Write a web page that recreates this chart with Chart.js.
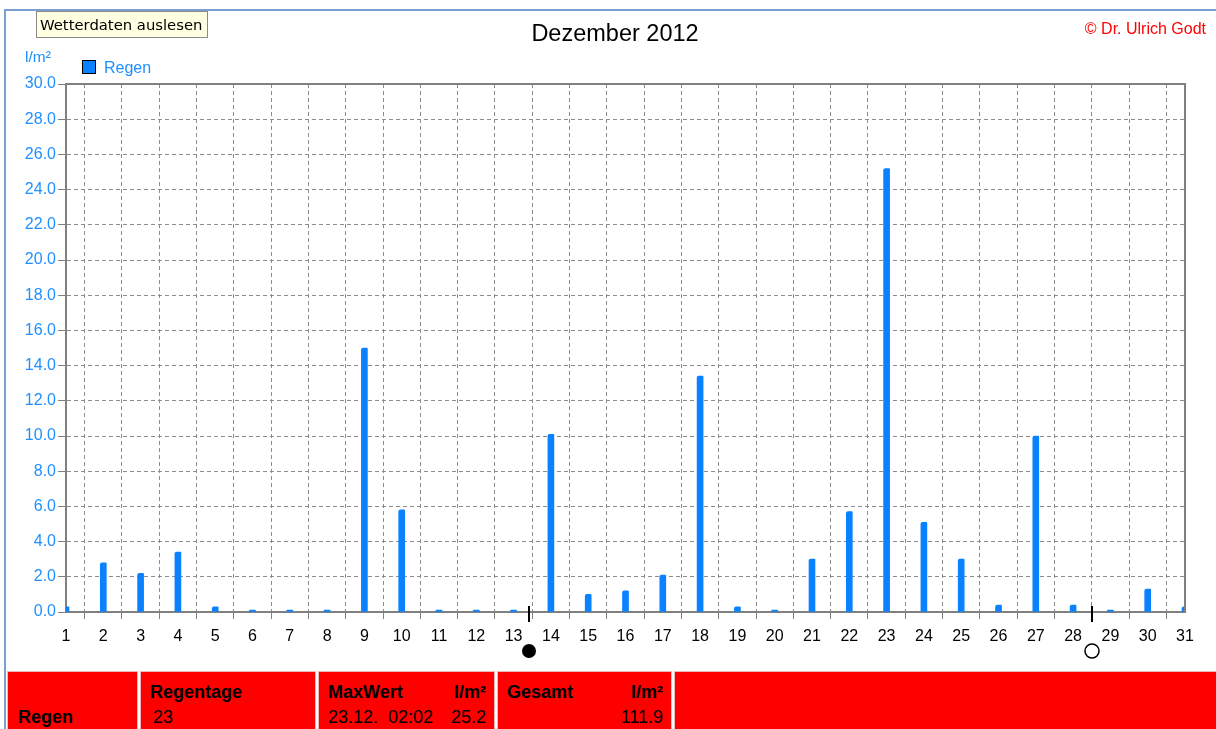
<!DOCTYPE html>
<html><head><meta charset="utf-8">
<script src="https://cdn.jsdelivr.net/npm/chart.js@4.4.1/dist/chart.umd.min.js"></script>
<style>
html,body{margin:0;padding:0;background:#fff;width:1216px;height:729px;overflow:hidden;font-family:"Liberation Sans",Arial,sans-serif;}
#wrap{position:absolute;left:0;top:0;width:1216px;height:668px;}
.abs{position:absolute;white-space:nowrap;}
.frameT{position:absolute;left:5px;top:9px;width:1211px;height:2px;background:#7a9fd2;}
.frameL{position:absolute;left:4px;top:9px;width:2px;height:720px;background:#7a9fd2;}
#tip{left:36px;top:11px;width:167px;height:25px;background:#ffffe1;border:1px solid #8a8a8a;font-family:"DejaVu Sans",sans-serif;font-size:14.8px;line-height:25px;padding-left:3px;box-sizing:content-box;color:#000;}
#title{left:415px;width:400px;top:20px;text-align:center;font-size:23.5px;color:#000;}
#copy{right:10px;top:20px;font-size:16px;color:#ff0000;}
#unit{left:25px;top:48px;font-size:15.5px;color:#1e90ff;}
#legbox{left:82px;top:60px;width:12px;height:12px;background:#0a82ff;border:1px solid #000;}
#legtxt{left:104px;top:59px;font-size:16px;color:#1e90ff;}
.cell{position:absolute;top:671px;height:60px;background:#ff0000;border:1px solid #f2b8b8;box-sizing:border-box;}
.t{position:absolute;font-size:18px;color:#000;white-space:nowrap;}
.b{font-weight:bold;}
</style>
</head><body>
<div class="frameT"></div><div class="frameL"></div>
<div id="wrap"><canvas id="c" width="1216" height="668"></canvas></div>
<div class="abs" id="title">Dezember 2012</div>
<div class="abs" id="copy">© Dr. Ulrich Godt</div>
<div class="abs" id="unit">l/m²</div>
<div class="abs" id="legbox"></div>
<div class="abs" id="legtxt">Regen</div>
<div class="abs" id="tip">Wetterdaten auslesen</div>

<div class="cell" style="left:7px;width:131px;"><div class="t b" style="left:10px;top:35px;">Regen</div></div>
<div class="cell" style="left:140px;width:176px;"><div class="t b" style="left:9px;top:10px;">Regentage</div><div class="t" style="left:12px;top:35px;">23</div></div>
<div class="cell" style="left:318px;width:177px;"><div class="t b" style="left:9px;top:10px;">MaxWert</div><div class="t b" style="right:8px;top:10px;">l/m²</div><div class="t" style="left:9px;top:35px;">23.12.&nbsp;&nbsp;02:02</div><div class="t" style="right:8px;top:35px;">25.2</div></div>
<div class="cell" style="left:497px;width:175px;"><div class="t b" style="left:9px;top:10px;">Gesamt</div><div class="t b" style="right:8px;top:10px;">l/m²</div><div class="t" style="right:8px;top:35px;">111.9</div></div>
<div class="cell" style="left:674px;width:545px;"></div>

<script>
// Data
const days = [1,2,3,4,5,6,7,8,9,10,11,12,13,14,15,16,17,18,19,20,21,22,23,24,25,26,27,28,29,30,31];
const rain = [0.3,2.8,2.2,3.4,0.3,0,0,0,15.0,5.8,0,0,0,10.1,1.0,1.2,2.1,13.4,0.3,0,3.0,5.7,25.2,5.1,3.0,0.4,10.0,0.4,0,1.3,0.3];
const moonDays = [13.4, 28.5];
const moonTypes = ['new','full'];
const seriesName = 'Regen';

const boxPlugin = {
  id:'box',
  afterDraw(chart){
    const {ctx, chartArea:a, scales:{x}} = chart;
    ctx.save();
    ctx.strokeStyle='#808080'; ctx.lineWidth=2;
    ctx.beginPath();
    ctx.moveTo(a.left, a.top); ctx.lineTo(a.right, a.top); ctx.lineTo(a.right, a.bottom);
    ctx.stroke();
    moonDays.forEach((d,i)=>{
      const px = Math.round(x.getPixelForValue(d));
      ctx.strokeStyle='#000'; ctx.lineWidth=2;
      ctx.beginPath(); ctx.moveTo(px, a.bottom-6); ctx.lineTo(px, a.bottom+10); ctx.stroke();
      ctx.beginPath(); ctx.arc(px, a.bottom+39, 7, 0, Math.PI*2);
      if(moonTypes[i]==='new'){ ctx.fillStyle='#000'; ctx.fill(); }
      else { ctx.lineWidth=1.5; ctx.stroke(); }
    });
    ctx.restore();
  }
};

new Chart(document.getElementById('c'), {
  type:'bar',
  data:{ datasets:[{
    label: seriesName,
    data: days.map((d,i)=>({x:d, y:rain[i]})),
    backgroundColor:'#0a82ff',
    barThickness:6,
    minBarLength:2,
    borderRadius:{topLeft:2, topRight:1, bottomLeft:0, bottomRight:0},
    borderSkipped:'start'
  }]},
  options:{
    responsive:false, animation:false,
    layout:{padding:{left:0, top:84, right:31, bottom:0}},
    plugins:{legend:{display:false}, tooltip:{enabled:false}, title:{display:false}},
    scales:{
      x:{
        type:'linear', min:1, max:31, offset:false,
        ticks:{stepSize:1, color:'#000', font:{size:16, family:'Liberation Sans'}, padding:8, maxRotation:0, autoSkip:false},
        grid:{color:'#8c8c8c', tickColor:'#808080', tickLength:7, tickBorderDash:[], lineWidth:1},
        border:{display:true, color:'#808080', width:2, dash:[4,3]},
        afterFit(s){ s.height = 56; }
      },
      y:{
        min:0, max:30,
        ticks:{stepSize:2, color:'#1e90ff', font:{size:16, family:'Liberation Sans'}, padding:2, callback:v=>v.toFixed(1)},
        grid:{color:'#8c8c8c', tickColor:'#808080', tickLength:8, tickBorderDash:[], lineWidth:1},
        border:{display:true, color:'#808080', width:2, dash:[4,3]},
        afterFit(s){ s.width = 66; }
      }
    }
  },
  plugins:[boxPlugin]
});
</script>
</body></html>
